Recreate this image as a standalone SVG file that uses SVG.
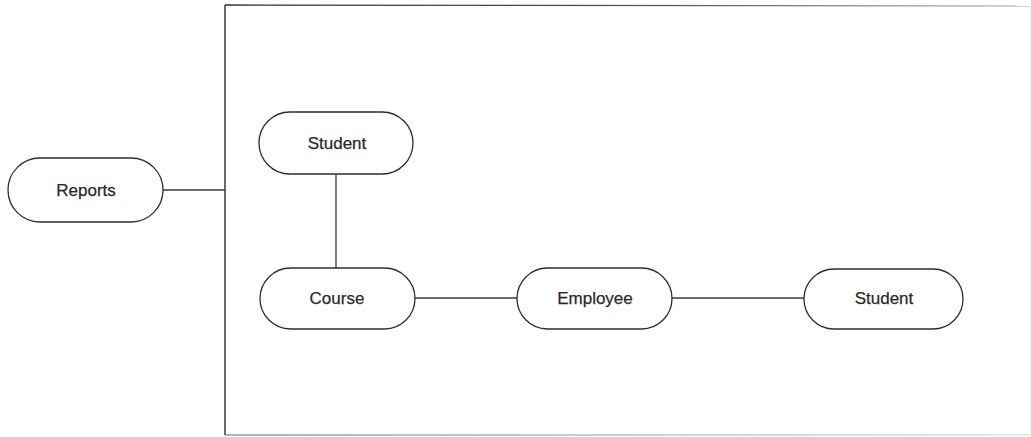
<svg xmlns="http://www.w3.org/2000/svg" width="1031" height="437" viewBox="0 0 1031 437">
  <defs>
    <linearGradient id="fadeTop" gradientUnits="userSpaceOnUse" x1="225" y1="0" x2="1030" y2="0">
      <stop offset="0" stop-color="#2a2a2a"/>
      <stop offset="0.55" stop-color="#555"/>
      <stop offset="1" stop-color="#c8c8c8"/>
    </linearGradient>
    <linearGradient id="fadeBottom" gradientUnits="userSpaceOnUse" x1="225" y1="0" x2="1030" y2="0">
      <stop offset="0" stop-color="#666"/>
      <stop offset="1" stop-color="#d4d4d4"/>
    </linearGradient>
    <style>
      .pill { fill: #ffffff; stroke: #2e2e2e; stroke-width: 1.3; }
      .label { font-family: "Liberation Sans", Arial, sans-serif; font-size: 17px; fill: #2a2a2a; text-anchor: middle; stroke: #2a2a2a; stroke-width: 0.25; }
      .wire { stroke: #3a3a3a; stroke-width: 1.3; fill: none; }
    </style>
  </defs>
  <rect width="1031" height="437" fill="#ffffff"/>

  <!-- enclosing frame -->
  <g id="frame" fill="none">
    <line x1="225" y1="5" x2="225" y2="435" stroke="#2a2a2a" stroke-width="1.4"/>
    <line x1="225" y1="5" x2="1030" y2="6" stroke="url(#fadeTop)" stroke-width="1.3"/>
    <line x1="225" y1="435" x2="1030" y2="435" stroke="url(#fadeBottom)" stroke-width="1.2"/>
    <line x1="1030" y1="6" x2="1030" y2="435" stroke="#ececec" stroke-width="1"/>
  </g>

  <!-- connectors -->
  <g id="connectors">
    <line class="wire" x1="163" y1="190" x2="225" y2="190"/>
    <line class="wire" x1="336" y1="174" x2="336" y2="268"/>
    <line class="wire" x1="415" y1="298" x2="517" y2="298"/>
    <line class="wire" x1="662" y1="298" x2="804" y2="298"/>
  </g>

  <g id="reports">
    <rect class="pill" x="8" y="158" width="155" height="64" rx="32" ry="32"/>
    <text class="label" x="86" y="196">Reports</text>
  </g>

  <g id="student-top">
    <rect class="pill" x="259" y="112" width="154" height="62" rx="31" ry="31"/>
    <text class="label" x="337" y="149">Student</text>
  </g>

  <g id="course">
    <rect class="pill" x="260" y="268" width="155" height="61" rx="30.5" ry="30.5"/>
    <text class="label" x="337" y="304">Course</text>
  </g>

  <g id="employee">
    <rect class="pill" x="517" y="268" width="155" height="61" rx="30.5" ry="30.5"/>
    <text class="label" x="595" y="304">Employee</text>
  </g>

  <g id="student-right">
    <rect class="pill" x="804" y="269" width="159" height="60" rx="30" ry="30"/>
    <text class="label" x="884" y="304">Student</text>
  </g>
</svg>
